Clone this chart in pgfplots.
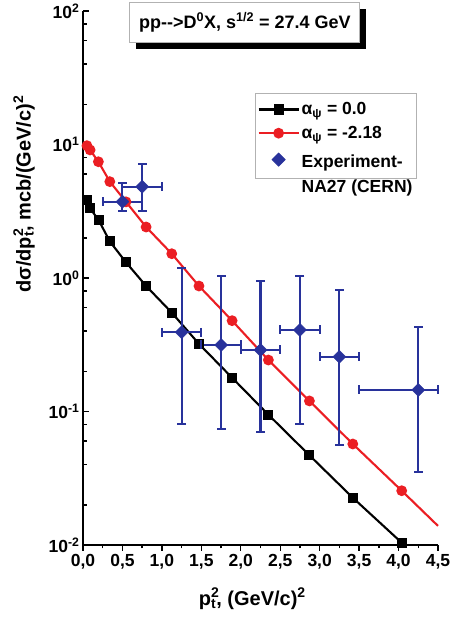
\documentclass[border=0pt]{standalone}
\usepackage{fontspec}
\setmainfont{Liberation Sans}
\usepackage{pgfplots}
\pgfplotsset{compat=1.18}
\usetikzlibrary{shadows}
\definecolor{myblue}{RGB}{40,50,155}
\definecolor{myred}{RGB}{235,30,35}
\newcommand\supsub[2]{\makebox[0pt][l]{\textsuperscript{#1}}\textsubscript{#2}}
\pgfplotsset{redlegend/.style={legend image code/.code={\draw[##1, mark indices={2}] plot coordinates {(0bp,0bp)(20bp,0bp)(40bp,0bp)};}}}

\begin{document}
\begin{tikzpicture}[font=\bfseries\fontsize{17.5bp}{21bp}\selectfont]
\begin{axis}[
  scale only axis, width=355bp, height=534bp,
  xmin=0, xmax=4.5, ymin=0.01, ymax=100, ymode=log,
  clip=false,
  axis x line*=bottom, axis y line*=left,
  axis line style={line width=1.8bp, black},
  xtick={0,0.5,1,1.5,2,2.5,3,3.5,4,4.5},
  xticklabels={{0,0},{0,5},{1,0},{1,5},{2,0},{2,5},{3,0},{3,5},{4,0},{4,5}},
  minor x tick num=1,
  ytick={0.01,0.1,1,10,100},
  yticklabels={10\textsuperscript{-2},10\textsuperscript{-1},10\textsuperscript{0},10\textsuperscript{1},10\textsuperscript{2}},
  minor ytick={0.02,0.04,0.06,0.08,0.2,0.4,0.6,0.8,2,4,6,8,20,40,60,80},
  xtick align=outside, ytick align=inside,
  major tick length=6bp, minor tick length=3.5bp,
  tick style={line width=1.4bp, black},
  xlabel={p\supsub{2}{t}, (GeV/c)\textsuperscript{2}},
  ylabel={dσ/dp\supsub{2}{t}, mcb/(GeV/c)\textsuperscript{2}},
  label style={font=\bfseries\fontsize{20bp}{24bp}\selectfont},
  xlabel style={at={(axis description cs:0.477,-0.101)}, anchor=center},
  ylabel style={at={(axis description cs:-0.166,0.657)}, anchor=center},
  legend style={at={(0.485,0.846)}, anchor=north west, draw=gray!60, line width=0.8bp,
    inner xsep=2bp, inner ysep=7bp, row sep=6bp,
    font=\bfseries\fontsize{17.5bp}{21bp}\selectfont, cells={anchor=west}},
  legend cell align=left,
  legend image code/.code={\draw[mark repeat=2,mark phase=2,#1] plot coordinates {(0bp,0bp)(20bp,0bp)(40bp,0bp)};},
]
\addplot[black, line width=2.1bp, mark=square*, mark size=4bp, mark options={solid}]
coordinates {(0.05,3.84)(0.09,3.33)(0.20,2.70)(0.34,1.88)(0.545,1.31)(0.80,0.871)(1.125,0.550)(1.47,0.321)(1.89,0.179)(2.35,0.0946)(2.87,0.047)(3.42,0.0226)(4.04,0.0104)};
\addlegendentry{α\textsubscript{ψ} = 0.0}
\addplot[myred, line width=2.1bp, mark=*, mark size=4.3bp, mark options={solid}, mark indices={1,2,3,4,5,6,7,8,9,10,11,12,13}, redlegend]
coordinates {(0.05,9.8)(0.09,9.1)(0.195,7.43)(0.34,5.27)(0.545,3.72)(0.80,2.41)(1.125,1.52)(1.47,0.871)(1.89,0.479)(2.35,0.243)(2.87,0.12)(3.42,0.0571)(4.04,0.0255)(4.5,0.0139)};
\addlegendentry{α\textsubscript{ψ} = -2.18}
% vertical error bars
\addplot[myblue, line width=2.1bp, mark=-, mark size=4.5bp, mark options={solid, line width=2.1bp}, unbounded coords=jump, forget plot]
coordinates {(0.5,3.18)(0.5,5.17)(nan,nan)(0.75,3.18)(0.75,7.11)(nan,nan)(1.25,0.0806)(1.25,1.19)(nan,nan)(1.75,0.0736)(1.75,1.04)(nan,nan)(2.25,0.0698)(2.25,0.955)(nan,nan)(2.75,0.0806)(2.75,1.04)(nan,nan)(3.25,0.0561)(3.25,0.813)(nan,nan)(4.25,0.0354)(4.25,0.432)};
% horizontal error bars
\addplot[myblue, line width=2.1bp, mark=|, mark size=4.5bp, mark options={solid, line width=2.1bp}, unbounded coords=jump, forget plot]
coordinates {(0.25,3.73)(0.75,3.73)(nan,nan)(0.5,4.83)(1.0,4.83)(nan,nan)(1.0,0.392)(1.5,0.392)(nan,nan)(1.5,0.315)(2.0,0.315)(nan,nan)(2.0,0.289)(2.5,0.289)(nan,nan)(2.5,0.408)(3.0,0.408)(nan,nan)(3.0,0.257)(3.5,0.257)(nan,nan)(3.5,0.145)(4.5,0.145)};
\addplot[myblue, only marks, mark=square*, mark size=4.6bp, mark options={rotate=45, fill=myblue, draw=myblue}]
coordinates {(0.5,3.73)(0.75,4.83)(1.25,0.392)(1.75,0.315)(2.25,0.289)(2.75,0.408)(3.25,0.257)(4.25,0.145)};
\addlegendentry{\renewcommand\arraystretch{1.2}\begin{tabular}[t]{@{}l@{}}Experiment-\\NA27 (CERN)\end{tabular}}
\node[draw=gray!60, line width=0.8bp, fill=white, minimum width=230bp, minimum height=40bp,
  font=\bfseries\fontsize{18bp}{21bp}\selectfont,
  drop shadow={shadow xshift=6bp, shadow yshift=-7bp, fill=black, opacity=1}]
  at (rel axis cs:0.456,0.979) {pp-{}->D\textsuperscript{0}X, s\textsuperscript{1/2} = 27.4 GeV};
\end{axis}
\pgfresetboundingbox
\path[use as bounding box] ([xshift=-83bp,yshift=-74bp]current axis.south west) rectangle ([xshift=14bp,yshift=11bp]current axis.north east);
\end{tikzpicture}
\end{document}
